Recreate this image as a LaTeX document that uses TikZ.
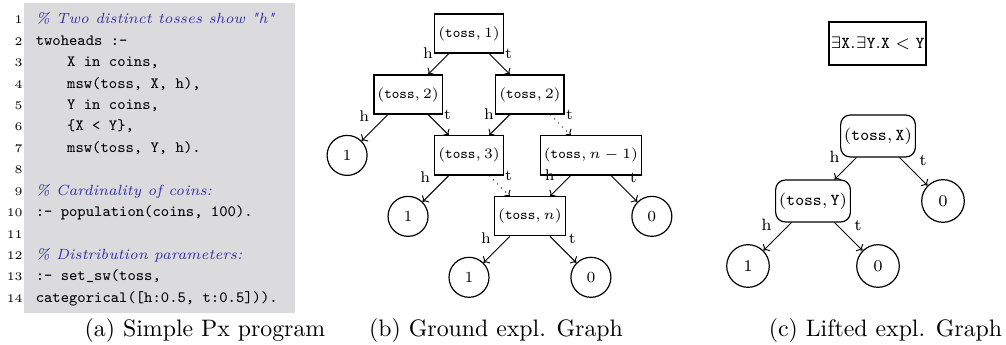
\documentclass[tikz,border=0pt]{standalone}
\usepackage{array}
\usetikzlibrary{positioning,arrows.meta}
\definecolor{codegray}{rgb}{0.86,0.86,0.87}
\definecolor{commentblue}{rgb}{0.18,0.18,0.65}

\begin{document}
\begin{tikzpicture}[x=0.42pt,y=-0.42pt,on grid,
  state/.style={rectangle,draw,line width=0.5pt,minimum height=16.4pt,inner xsep=1.45pt,inner ysep=0pt,font=\fontsize{6.5}{8}\selectfont},
  leaf/.style={circle,draw,line width=0.5pt,minimum size=16.8pt,inner sep=0pt,font=\fontsize{6.5}{8}\selectfont},
  lstate/.style={state,rounded corners=4pt,minimum height=17.6pt,inner xsep=1.4pt,font=\fontsize{6.9}{8}\selectfont},
  lleaf/.style={leaf,minimum size=17.9pt,font=\fontsize{6.9}{8}\selectfont},
  branch/.style={-{To[scale=0.8]},line width=0.4pt},
  lbl/.style={font=\fontsize{6.5}{8}\selectfont,inner sep=2.2pt},
  llbl/.style={lbl,font=\fontsize{6.9}{8}\selectfont},
  subcap/.style={anchor=base,inner sep=0pt,font=\normalsize}]
\useasboundingbox (0,0) rectangle (1006,344);

% (a) the program
\fill[codegray] (24,3) rectangle (295,313);
\node[anchor=north west,inner sep=0pt,font=\fontsize{6.6}{9}\selectfont] (code) at (6.3,8.3) {%
\begin{tabular}{@{}>{\fontsize{4.9}{9}\selectfont}r@{\hspace{5.5pt}}>{\ttfamily}l@{}}
1 & {\color{commentblue}\rmfamily\itshape\fontsize{6.2}{9}\selectfont \% Two distinct tosses show \textquotedbl h\textquotedbl}\\
2 & twoheads :-\\
3 & \hspace*{2em}X in coins,\\
4 & \hspace*{2em}msw(toss, X, h),\\
5 & \hspace*{2em}Y in coins,\\
6 & \hspace*{2em}\{X < Y\},\\
7 & \hspace*{2em}msw(toss, Y, h).\\
8 & \\
9 & {\color{commentblue}\rmfamily\itshape\fontsize{6.2}{9}\selectfont \% Cardinality of coins:}\\
10 & :- population(coins, 100).\\
11 & \\
12 & {\color{commentblue}\rmfamily\itshape\fontsize{6.2}{9}\selectfont \% Distribution parameters:}\\
13 & :- set\_sw(toss,\\
14 & categorical([h:0.5, t:0.5])).
\end{tabular}};
\node[subcap] (capa) at (205,336) {(a) Simple Px program};

% (b) ground graph
\node[state] (t1) at (469,33.5) {$(\mathtt{toss}, 1)$};
\node[state,below left=25.6pt and 25.6pt of t1] (t2a) {$(\mathtt{toss}, 2)$};
\node[state,below right=25.6pt and 25.6pt of t1] (t2b) {$(\mathtt{toss}, 2)$};
\node[leaf,below left=25.6pt and 25.6pt of t2a] (one1) {1};
\node[state,below right=25.6pt and 25.6pt of t2a] (t3) {$(\mathtt{toss}, 3)$};
\node[state,below right=25.6pt and 25.6pt of t2b] (tn1) {$(\mathtt{toss}, n-1)$};
\node[leaf,below left=25.6pt and 25.6pt of t3] (one2) {1};
\node[state,below right=25.6pt and 25.6pt of t3] (tn) {$(\mathtt{toss}, n)$};
\node[leaf,below right=25.6pt and 25.6pt of tn1] (zero1) {0};
\node[leaf,below left=25.6pt and 25.6pt of tn] (one3) {1};
\node[leaf,below right=25.6pt and 25.6pt of tn] (zero2) {0};

\draw[branch] (t1) -- node[lbl,above left] {h} (t2a);
\draw[branch] (t1) -- node[lbl,above right] {t} (t2b);
\draw[branch] (t2a) -- node[lbl,above left] {h} (one1);
\draw[branch] (t2a) -- node[lbl,above right] {t} (t3);
\draw[branch] (t2b) -- node[lbl,above left] {h} (t3);
\draw[branch,dotted] (t2b) -- node[lbl,above right] {t} (tn1);
\draw[branch] (t3) -- node[lbl,above left] {h} (one2);
\draw[branch,dotted] (t3) -- node[lbl,above right] {t} (tn);
\draw[branch] (tn1) -- node[lbl,above left] {h} (tn);
\draw[branch] (tn1) -- node[lbl,above right] {t} (zero1);
\draw[branch] (tn) -- node[lbl,above left] {h} (one3);
\draw[branch] (tn) -- node[lbl,above right] {t} (zero2);
\node[subcap] (capb) at (496,336) {(b) Ground expl. Graph};

% (c) lifted graph
\node[draw,line width=0.5pt,inner xsep=0.6pt,inner ysep=0pt,minimum height=18pt,font=\fontsize{6.9}{8}\selectfont] (cond) at (877.5,43.5) {$\exists\mathtt{X}.\exists\mathtt{Y}.\mathtt{X} < \mathtt{Y}$};
\node[lstate] (lt1) at (878,136) {$(\mathtt{toss}, \mathtt{X})$};
\node[lstate,below left=27.3pt and 27.3pt of lt1] (lt2) {$(\mathtt{toss}, \mathtt{Y})$};
\node[lleaf,below right=27.3pt and 27.3pt of lt1] (lzero1) {0};
\node[lleaf,below left=27.3pt and 27.3pt of lt2] (lone) {1};
\node[lleaf,below right=27.3pt and 27.3pt of lt2] (lzero2) {0};

\draw[branch] (lt1) -- node[llbl,above left] {h} (lt2);
\draw[branch] (lt1) -- node[llbl,above right] {t} (lzero1);
\draw[branch] (lt2) -- node[llbl,above left] {h} (lone);
\draw[branch] (lt2) -- node[llbl,above right] {t} (lzero2);
\node[subcap] (capc) at (885.5,336) {(c) Lifted expl. Graph};
\end{tikzpicture}
\end{document}
